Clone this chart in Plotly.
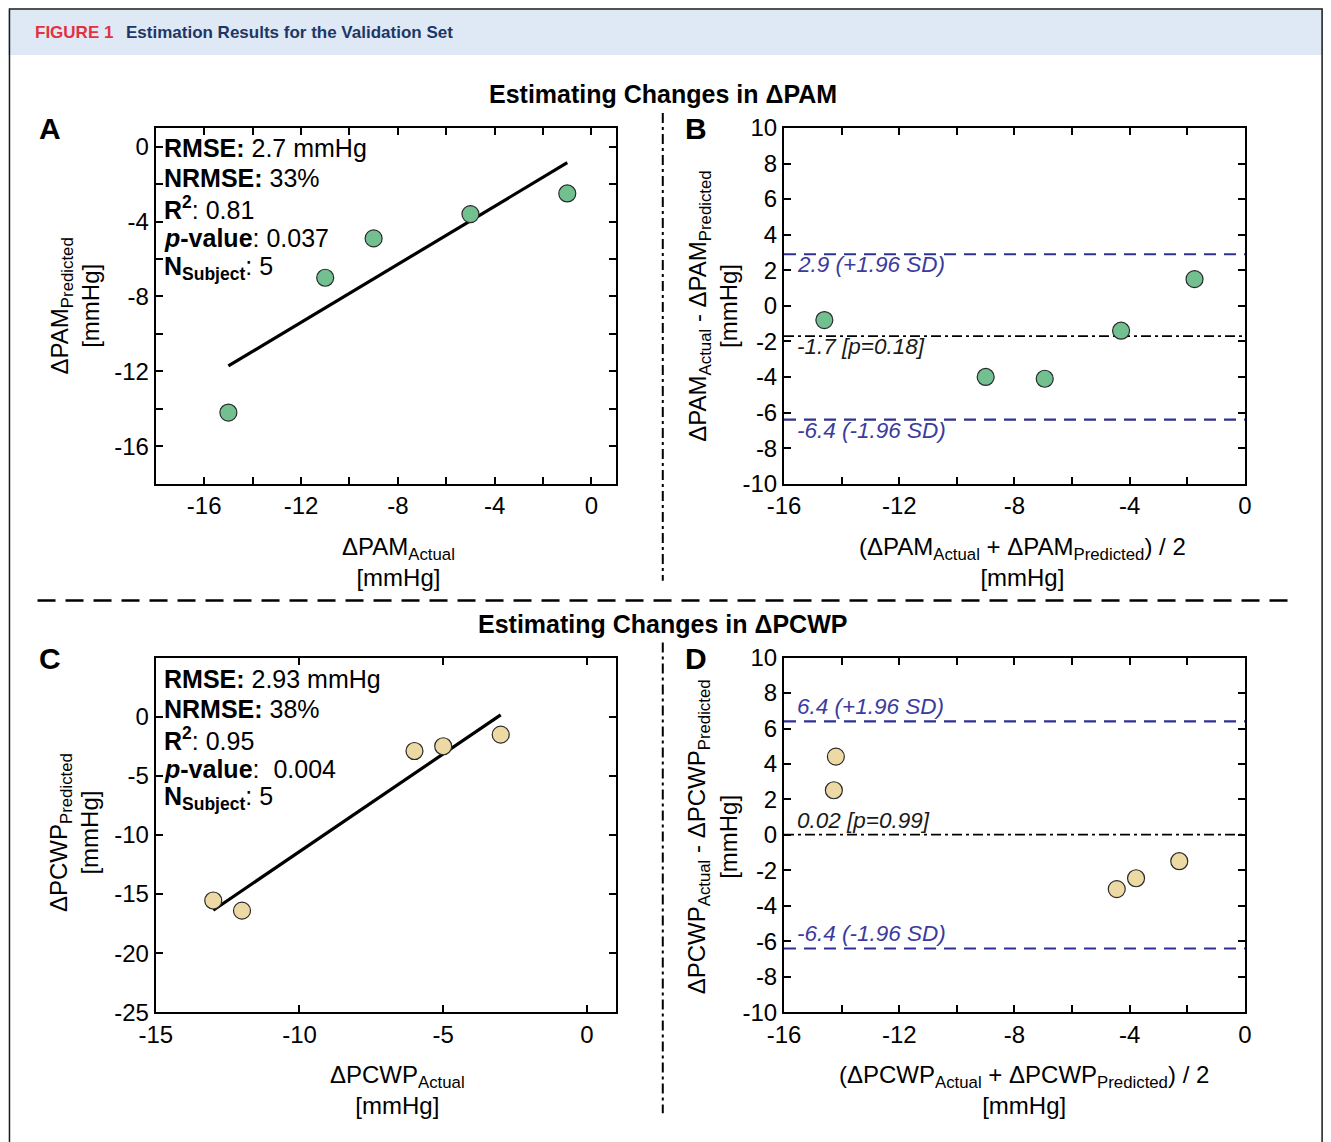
import numpy as np
import plotly.graph_objects as go

W, H = 1331, 1142

# ---------------- data ----------------
pam_actual = [-15, -11, -9, -5, -1]
pam_predicted = [-14.2, -7.0, -4.9, -3.6, -2.5]
pam_ba_mean = [-14.6, -9.0, -6.95, -4.3, -1.75]
pam_ba_diff = [-0.8, -4.0, -4.1, -1.4, 1.5]
pam_ba_levels = [2.9, -1.7, -6.4]
pam_ba_labels = ["2.9 (+1.96 SD)", "-1.7 [p=0.18]", "-6.4 (-1.96 SD)"]
pam_stats = ["<b>RMSE:</b> 2.7 mmHg", "<b>NRMSE:</b> 33%", "<b>R<sup>2</sup></b>: 0.81",
             "<b><i>p</i>-value</b>: 0.037", "<b>N<sub>Subject</sub></b>: 5"]

pcwp_actual = [-13, -12, -6, -5, -3]
pcwp_predicted = [-15.54, -16.4, -2.9, -2.5, -1.52]
pcwp_ba_mean = [-14.27, -14.2, -4.45, -3.78, -2.28]
pcwp_ba_diff = [2.52, 4.42, -3.05, -2.44, -1.48]
pcwp_ba_levels = [6.4, 0.02, -6.4]
pcwp_ba_labels = ["6.4 (+1.96 SD)", "0.02 [p=0.99]", "-6.4 (-1.96 SD)"]
pcwp_stats = ["<b>RMSE:</b> 2.93 mmHg", "<b>NRMSE:</b> 38%", "<b>R<sup>2</sup></b>: 0.95",
              "<b><i>p</i>-value</b>:\u00a0 0.004", "<b>N<sub>Subject</sub></b>: 5"]

# tick labels (hyphen minus as in the original)
ticks_a = [-16, -12, -8, -4, 0]
ticks_a_minor = [-18, -14, -10, -6, -2]
ticks_ba_x = [-16, -12, -8, -4, 0]
ticks_ba_x_minor = [-14, -10, -6, -2]
ticks_ba_y = [-10, -8, -6, -4, -2, 0, 2, 4, 6, 8, 10]
ticks_c_x = [-15, -10, -5, 0]
ticks_c_y = [-25, -20, -15, -10, -5, 0]


def lab(vals):
    return [str(v) for v in vals]


# ---------------- styling ----------------
FONT = "Liberation Sans, Arial, sans-serif"
GREEN = "#72bf8f"
TAN = "#ecd9a3"
BLUE = "#2e3192"
BLUE_TXT = "#3b3b9e"

# page placement compensation (observed render offset/scale)
SX, BX, SY, BY = 0.980, 27.5, 0.977, 21.0


def fx(p):
    return ((p - BX) / SX) / W


def fy(p):
    return 1 - ((p - BY) / SY) / H


fig = go.Figure()

panels = {
    "A": ("x", "y", (158, 617), (127, 483)),
    "B": ("x2", "y2", (785, 1245), (127, 483)),
    "C": ("x3", "y3", (158, 617), (657, 1012)),
    "D": ("x4", "y4", (785, 1245), (657, 1012)),
}

TICKFONT = dict(family=FONT, size=24, color="black")


def axis_style(vals, minor_vals=None, **kw):
    d = dict(showline=True, linecolor="black", linewidth=2, mirror="ticks",
             ticks="inside", ticklen=7, tickwidth=1.5, tickcolor="black",
             showgrid=False, zeroline=False, fixedrange=True,
             tickmode="array", tickvals=vals, ticktext=lab(vals),
             tickfont=TICKFONT)
    if minor_vals is not None:
        d["minor"] = dict(tickmode="array", tickvals=minor_vals, ticks="inside",
                          ticklen=7, tickwidth=1.5, tickcolor="black", showgrid=False)
    d.update(kw)
    return d


layout_axes = {}
for name, (xa, ya, (x0, x1), (y0, y1)) in panels.items():
    xk = "xaxis" + xa[1:]
    yk = "yaxis" + ya[1:]
    layout_axes[xk] = dict(domain=[fx(x0), fx(x1)], anchor=ya)
    layout_axes[yk] = dict(domain=[fy(y1), fy(y0)], anchor=xa)

layout_axes["xaxis"].update(axis_style(ticks_a, ticks_a_minor, range=[-18, 1]))
layout_axes["yaxis"].update(axis_style(ticks_a, ticks_a_minor, range=[-18, 1]))
layout_axes["xaxis2"].update(axis_style(ticks_ba_x, ticks_ba_x_minor, range=[-16, 0]))
layout_axes["yaxis2"].update(axis_style(ticks_ba_y, range=[-10, 10]))
layout_axes["xaxis3"].update(axis_style(ticks_c_x, range=[-15, 1]))
layout_axes["yaxis3"].update(axis_style(ticks_c_y, range=[-25, 5]))
layout_axes["xaxis4"].update(axis_style(ticks_ba_x, ticks_ba_x_minor, range=[-16, 0]))
layout_axes["yaxis4"].update(axis_style(ticks_ba_y, range=[-10, 10]))

marker_common = dict(size=17, line=dict(color="#2a2a2a", width=1.2))

# scatter + regression (A, C)
for (xa, ya), xs, ys, col in [(("x", "y"), pam_actual, pam_predicted, GREEN),
                              (("x3", "y3"), pcwp_actual, pcwp_predicted, TAN)]:
    slope, icpt = np.polyfit(xs, ys, 1)
    lx = np.array([min(xs), max(xs)], dtype=float)
    fig.add_trace(go.Scatter(x=lx, y=slope * lx + icpt, mode="lines",
                             line=dict(color="black", width=3.2),
                             xaxis=xa, yaxis=ya, showlegend=False, hoverinfo="skip"))
    fig.add_trace(go.Scatter(x=xs, y=ys, mode="markers",
                             marker=dict(color=col, **marker_common),
                             xaxis=xa, yaxis=ya, showlegend=False))

shapes = []
annotations = []

# Bland-Altman (B, D)
for (xa, ya), xs, ys, col, levels, labels, label_above in [
        (("x2", "y2"), pam_ba_mean, pam_ba_diff, GREEN, pam_ba_levels, pam_ba_labels, False),
        (("x4", "y4"), pcwp_ba_mean, pcwp_ba_diff, TAN, pcwp_ba_levels, pcwp_ba_labels, True)]:
    for i, (lev, labtxt) in enumerate(zip(levels, labels)):
        is_mean = (i == 1)
        shapes.append(dict(type="line", xref=xa + " domain", yref=ya, x0=0, x1=1,
                           y0=lev, y1=lev, layer="below",
                           line=dict(color="black" if is_mean else BLUE,
                                     width=1.8 if is_mean else 2.2,
                                     dash="10px,4px,3px,4px" if is_mean else "12px,8px")))
        annotations.append(dict(xref=xa + " domain", yref=ya, x=0.024, y=lev,
                                text="<i>%s</i>" % labtxt, showarrow=False,
                                xanchor="left", yanchor="bottom" if label_above else "top",
                                yshift=0 if label_above else 4,
                                font=dict(family=FONT, size=22.5,
                                          color="#1a1a1a" if is_mean else BLUE_TXT)))
    fig.add_trace(go.Scatter(x=xs, y=ys, mode="markers",
                             marker=dict(color=col, **marker_common),
                             xaxis=xa, yaxis=ya, showlegend=False))

# stats text blocks
for stats, top in [(pam_stats, 147), (pcwp_stats, 678)]:
    for k, s in enumerate(stats):
        annotations.append(dict(xref="paper", yref="paper", x=fx(164), y=fy(top + 30 * k),
                                text=s, showarrow=False, xanchor="left", yanchor="middle",
                                font=dict(family=FONT, size=25, color="black")))


def txt(x, y, s, size=24, angle=0, color="black", xanchor="center"):
    annotations.append(dict(xref="paper", yref="paper", x=fx(x), y=fy(y), text=s,
                            showarrow=False, textangle=angle, xanchor=xanchor,
                            yanchor="middle",
                            font=dict(family=FONT, size=size, color=color)))


# axis titles
txt(400, 561, "ΔPAM<sub>Actual</sub><br>[mmHg]")
txt(1023, 561, "(ΔPAM<sub>Actual</sub> + ΔPAM<sub>Predicted</sub>) / 2<br>[mmHg]")
txt(77, 305, "ΔPAM<sub>Predicted</sub><br>[mmHg]", angle=-90)
txt(714, 305, "ΔPAM<sub>Actual</sub> - ΔPAM<sub>Predicted</sub><br>[mmHg]", angle=-90)

txt(399, 1090, "ΔPCWP<sub>Actual</sub><br>[mmHg]")
txt(1024, 1090, "(ΔPCWP<sub>Actual</sub> + ΔPCWP<sub>Predicted</sub>) / 2<br>[mmHg]")
txt(77, 832, "ΔPCWP<sub>Predicted</sub><br>[mmHg]", angle=-90)
txt(714, 836, "ΔPCWP<sub>Actual</sub> - ΔPCWP<sub>Predicted</sub><br>[mmHg]", angle=-90)

# panel titles & letters
txt(664, 93, "<b>Estimating Changes in ΔPAM</b>", size=25)
txt(664, 623, "<b>Estimating Changes in ΔPCWP</b>", size=25)
for letter, (x, y) in {"A": (52, 128), "B": (697, 128), "C": (52, 658), "D": (697, 658)}.items():
    txt(x, y, "<b>%s</b>" % letter, size=30)

# header band + frame
shapes.append(dict(type="rect", xref="paper", yref="paper", x0=fx(5), x1=fx(1326),
                   y0=fy(54), y1=fy(9), fillcolor="#dfe9f5", line=dict(width=0), layer="below"))
shapes.append(dict(type="rect", xref="paper", yref="paper", x0=fx(12), x1=fx(1322),
                   y0=fy(1160), y1=fy(8), line=dict(color="#1a1a1a", width=1.5)))
txt(35, 32, "<b>FIGURE 1</b>", size=17, color="#e2323f", xanchor="left")
txt(126, 32, "<b>Estimation Results for the Validation Set</b>", size=17,
    color="#1c3766", xanchor="left")

# separators
DD = "10px,4px,3px,4px"
shapes.append(dict(type="line", xref="paper", yref="paper", x0=fx(664), x1=fx(664),
                   y0=fy(112), y1=fy(580), line=dict(color="black", width=2, dash=DD)))
shapes.append(dict(type="line", xref="paper", yref="paper", x0=fx(664), x1=fx(664),
                   y0=fy(642), y1=fy(1113), line=dict(color="black", width=2, dash=DD)))
shapes.append(dict(type="line", xref="paper", yref="paper", x0=fx(40), x1=fx(1295),
                   y0=fy(600), y1=fy(600), line=dict(color="black", width=2.5, dash="18px,10px")))

fig.update_layout(width=W, height=H, margin=dict(l=0, r=0, t=0, b=0),
                  paper_bgcolor="white", plot_bgcolor="white",
                  font=dict(family=FONT, color="black"),
                  shapes=shapes, annotations=annotations, showlegend=False,
                  **layout_axes)

fig.write_html("out.html")
